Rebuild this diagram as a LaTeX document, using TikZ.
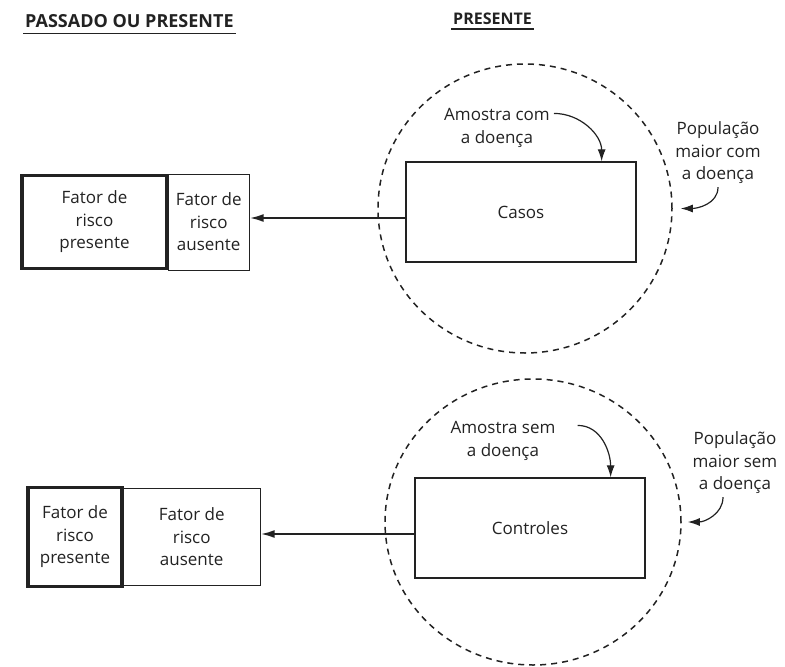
\documentclass[tikz,border=0pt]{standalone}
\usepackage{fontspec}
\setmainfont{Open Sans}
\usetikzlibrary{arrows.meta,positioning,calc,shapes.geometric}
\definecolor{ink}{HTML}{222222}
\tikzset{
  >=Latex,
  every node/.style={font=\fontsize{17}{22.5}\selectfont,text=ink},
  header/.style={font=\fontsize{18}{21}\selectfont\bfseries,inner sep=2pt,anchor=west},
  casebox/.style={draw=ink,line width=1.3pt,minimum width=230pt,minimum height=100pt,align=center},
  riskbox/.style={draw=ink,line width=3.4pt,align=center,inner sep=0pt},
  nobox/.style={draw=ink,line width=1pt,align=center,inner sep=0pt},
  popcircle/.style={ellipse,draw=ink,line width=1.5pt,dash pattern=on 6pt off 5pt},
  note/.style={align=center,inner sep=1pt},
  arrow/.style={->,line width=2pt,draw=ink,>={Latex[length=14pt,width=8pt]}},
  pointer/.style={->,line width=1.2pt,draw=ink,>={Latex[length=12pt,width=8pt]}},
}
\begin{document}
\begin{tikzpicture}[x=1pt,y=-1pt]
\useasboundingbox (0,0) rectangle (785,667);

% headers
\node[header] (past) at (23,21) {PASSADO OU PRESENTE};
\node[header,font=\fontsize{16}{19}\selectfont\bfseries] (now) at (451,19) {PRESENTE};
\draw[ink,line width=1.2pt] ([yshift=-4pt]past.south west) -- ([yshift=-4pt]past.south east);
\draw[ink,line width=1.2pt] ([yshift=-2pt]now.south west) -- ([yshift=-2pt]now.south east);

% cases
\node[popcircle,minimum width=294pt,minimum height=289pt] (popcase) at (525,208.5) {};
\node[casebox] (casos) at (521,212) {Casos};
\node[riskbox,minimum width=145pt,minimum height=93pt] (riskyes1) at (94.5,222) {Fator de\\risco\\presente};
\node[nobox,minimum width=81pt,minimum height=96pt,anchor=west] (riskno1) at ([xshift=-1pt]riskyes1.east) {Fator de\\risco\\ausente};
\draw[arrow] (casos.west |- 0,218) -- (riskno1.east |- 0,218);

\node[note] (samplecase) at (497,128) {Amostra com\\a doença};
\draw[pointer] ($(samplecase.north east)+(3,6)$) to[out=0,in=90] ($(casos.north east)+(-35,0)$);
\node[note] (bigcase) at (718,153) {População\\maior com\\a doença};
\draw[pointer] ($(bigcase.south)+(0,2)$) to[out=-90,in=0] ($(popcase.east)+(8,0)$);

% controls
\node[popcircle,minimum width=296pt,minimum height=286pt] (popctrl) at (533,522) {};
\node[casebox] (controles) at (530,528) {Controles};
\node[riskbox,minimum width=94pt,minimum height=99pt] (riskyes2) at (75,537) {Fator de\\risco\\presente};
\node[nobox,minimum width=137pt,minimum height=97pt,anchor=west] (riskno2) at ([xshift=-1pt]riskyes2.east) {Fator de\\risco\\ausente};
\draw[arrow] (controles.west |- 0,534) -- (riskno2.east |- 0,534);

\node[note] (samplectrl) at (503,441) {Amostra sem\\a doença};
\draw[pointer] ($(samplectrl.north east)+(21,5)$) to[out=0,in=90] ($(controles.north east)+(-35,0)$);
\node[note] (bigctrl) at (735,463) {População\\maior sem\\a doença};
\draw[pointer] ($(bigctrl.south)+(-12,2)$) to[out=-90,in=0] ($(popctrl.east)+(6,0)$);
\end{tikzpicture}
\end{document}
